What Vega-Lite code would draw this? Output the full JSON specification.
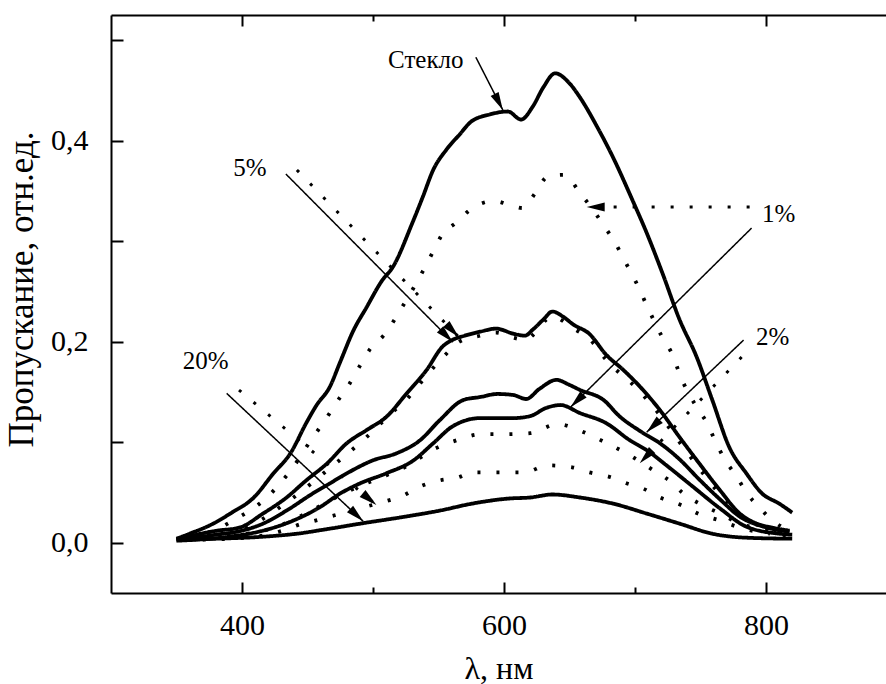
{
  "$schema": "https://vega.github.io/schema/vega-lite/v6.json",
  "width": 775,
  "height": 578,
  "autosize": {"type": "none"},
  "padding": {"left": 111, "top": 15, "right": 0, "bottom": 91},
  "background": "white",
  "config": {
    "view": {"stroke": null},
    "font": "Liberation Serif",
    "axis": {
      "labelFont": "Liberation Serif",
      "labelFontSize": 30,
      "labelColor": "black",
      "titleFont": "Liberation Serif",
      "titleFontWeight": "normal",
      "titleColor": "black",
      "domainColor": "black",
      "domainWidth": 2,
      "tickColor": "black",
      "tickWidth": 2,
      "grid": false,
      "labelFlush": false,
      "labelOverlap": false
    }
  },
  "datasets": {
    "curves": [
      {"sample": "Стекло", "kind": "solid", "nm": 350, "T": 0.004},
      {"sample": "Стекло", "kind": "solid", "nm": 360, "T": 0.009},
      {"sample": "Стекло", "kind": "solid", "nm": 378, "T": 0.019},
      {"sample": "Стекло", "kind": "solid", "nm": 391, "T": 0.029},
      {"sample": "Стекло", "kind": "solid", "nm": 409, "T": 0.045},
      {"sample": "Стекло", "kind": "solid", "nm": 424, "T": 0.069},
      {"sample": "Стекло", "kind": "solid", "nm": 437, "T": 0.089},
      {"sample": "Стекло", "kind": "solid", "nm": 449, "T": 0.119},
      {"sample": "Стекло", "kind": "solid", "nm": 457, "T": 0.137},
      {"sample": "Стекло", "kind": "solid", "nm": 467, "T": 0.155},
      {"sample": "Стекло", "kind": "solid", "nm": 475, "T": 0.18},
      {"sample": "Стекло", "kind": "solid", "nm": 485, "T": 0.211},
      {"sample": "Стекло", "kind": "solid", "nm": 495, "T": 0.234},
      {"sample": "Стекло", "kind": "solid", "nm": 507, "T": 0.261},
      {"sample": "Стекло", "kind": "solid", "nm": 515, "T": 0.274},
      {"sample": "Стекло", "kind": "solid", "nm": 530, "T": 0.318},
      {"sample": "Стекло", "kind": "solid", "nm": 538, "T": 0.344},
      {"sample": "Стекло", "kind": "solid", "nm": 546, "T": 0.371},
      {"sample": "Стекло", "kind": "solid", "nm": 556, "T": 0.391},
      {"sample": "Стекло", "kind": "solid", "nm": 566, "T": 0.406},
      {"sample": "Стекло", "kind": "solid", "nm": 575, "T": 0.419},
      {"sample": "Стекло", "kind": "solid", "nm": 589, "T": 0.426},
      {"sample": "Стекло", "kind": "solid", "nm": 603, "T": 0.429},
      {"sample": "Стекло", "kind": "solid", "nm": 613, "T": 0.421},
      {"sample": "Стекло", "kind": "solid", "nm": 622, "T": 0.434},
      {"sample": "Стекло", "kind": "solid", "nm": 630, "T": 0.453},
      {"sample": "Стекло", "kind": "solid", "nm": 639, "T": 0.467},
      {"sample": "Стекло", "kind": "solid", "nm": 650, "T": 0.457},
      {"sample": "Стекло", "kind": "solid", "nm": 658, "T": 0.443},
      {"sample": "Стекло", "kind": "solid", "nm": 671, "T": 0.414},
      {"sample": "Стекло", "kind": "solid", "nm": 683, "T": 0.384},
      {"sample": "Стекло", "kind": "solid", "nm": 698, "T": 0.341},
      {"sample": "Стекло", "kind": "solid", "nm": 709, "T": 0.308},
      {"sample": "Стекло", "kind": "solid", "nm": 721, "T": 0.268},
      {"sample": "Стекло", "kind": "solid", "nm": 734, "T": 0.222},
      {"sample": "Стекло", "kind": "solid", "nm": 747, "T": 0.185},
      {"sample": "Стекло", "kind": "solid", "nm": 759, "T": 0.142},
      {"sample": "Стекло", "kind": "solid", "nm": 772, "T": 0.095},
      {"sample": "Стекло", "kind": "solid", "nm": 785, "T": 0.069},
      {"sample": "Стекло", "kind": "solid", "nm": 797, "T": 0.049},
      {"sample": "Стекло", "kind": "solid", "nm": 810, "T": 0.039},
      {"sample": "Стекло", "kind": "solid", "nm": 820, "T": 0.03},

      {"sample": "5%", "kind": "solid", "nm": 350, "T": 0.003},
      {"sample": "5%", "kind": "solid", "nm": 365, "T": 0.008},
      {"sample": "5%", "kind": "solid", "nm": 381, "T": 0.012},
      {"sample": "5%", "kind": "solid", "nm": 398, "T": 0.015},
      {"sample": "5%", "kind": "solid", "nm": 416, "T": 0.029},
      {"sample": "5%", "kind": "solid", "nm": 434, "T": 0.045},
      {"sample": "5%", "kind": "solid", "nm": 449, "T": 0.062},
      {"sample": "5%", "kind": "solid", "nm": 465, "T": 0.079},
      {"sample": "5%", "kind": "solid", "nm": 480, "T": 0.099},
      {"sample": "5%", "kind": "solid", "nm": 495, "T": 0.112},
      {"sample": "5%", "kind": "solid", "nm": 510, "T": 0.125},
      {"sample": "5%", "kind": "solid", "nm": 526, "T": 0.149},
      {"sample": "5%", "kind": "solid", "nm": 541, "T": 0.172},
      {"sample": "5%", "kind": "solid", "nm": 553, "T": 0.195},
      {"sample": "5%", "kind": "solid", "nm": 561, "T": 0.202},
      {"sample": "5%", "kind": "solid", "nm": 570, "T": 0.206},
      {"sample": "5%", "kind": "solid", "nm": 582, "T": 0.21},
      {"sample": "5%", "kind": "solid", "nm": 594, "T": 0.213},
      {"sample": "5%", "kind": "solid", "nm": 607, "T": 0.208},
      {"sample": "5%", "kind": "solid", "nm": 616, "T": 0.206},
      {"sample": "5%", "kind": "solid", "nm": 622, "T": 0.212},
      {"sample": "5%", "kind": "solid", "nm": 630, "T": 0.222},
      {"sample": "5%", "kind": "solid", "nm": 637, "T": 0.23},
      {"sample": "5%", "kind": "solid", "nm": 645, "T": 0.225},
      {"sample": "5%", "kind": "solid", "nm": 653, "T": 0.217},
      {"sample": "5%", "kind": "solid", "nm": 665, "T": 0.208},
      {"sample": "5%", "kind": "solid", "nm": 678, "T": 0.187},
      {"sample": "5%", "kind": "solid", "nm": 691, "T": 0.172},
      {"sample": "5%", "kind": "solid", "nm": 704, "T": 0.155},
      {"sample": "5%", "kind": "solid", "nm": 719, "T": 0.132},
      {"sample": "5%", "kind": "solid", "nm": 734, "T": 0.105},
      {"sample": "5%", "kind": "solid", "nm": 749, "T": 0.079},
      {"sample": "5%", "kind": "solid", "nm": 765, "T": 0.052},
      {"sample": "5%", "kind": "solid", "nm": 780, "T": 0.029},
      {"sample": "5%", "kind": "solid", "nm": 793, "T": 0.019},
      {"sample": "5%", "kind": "solid", "nm": 805, "T": 0.015},
      {"sample": "5%", "kind": "solid", "nm": 818, "T": 0.012},

      {"sample": "2%", "kind": "solid", "nm": 350, "T": 0.003},
      {"sample": "2%", "kind": "solid", "nm": 380, "T": 0.008},
      {"sample": "2%", "kind": "solid", "nm": 400, "T": 0.012},
      {"sample": "2%", "kind": "solid", "nm": 416, "T": 0.019},
      {"sample": "2%", "kind": "solid", "nm": 434, "T": 0.032},
      {"sample": "2%", "kind": "solid", "nm": 454, "T": 0.049},
      {"sample": "2%", "kind": "solid", "nm": 467, "T": 0.059},
      {"sample": "2%", "kind": "solid", "nm": 480, "T": 0.069},
      {"sample": "2%", "kind": "solid", "nm": 500, "T": 0.082},
      {"sample": "2%", "kind": "solid", "nm": 518, "T": 0.089},
      {"sample": "2%", "kind": "solid", "nm": 536, "T": 0.102},
      {"sample": "2%", "kind": "solid", "nm": 551, "T": 0.122},
      {"sample": "2%", "kind": "solid", "nm": 569, "T": 0.142},
      {"sample": "2%", "kind": "solid", "nm": 582, "T": 0.145},
      {"sample": "2%", "kind": "solid", "nm": 595, "T": 0.148},
      {"sample": "2%", "kind": "solid", "nm": 607, "T": 0.147},
      {"sample": "2%", "kind": "solid", "nm": 617, "T": 0.143},
      {"sample": "2%", "kind": "solid", "nm": 627, "T": 0.153},
      {"sample": "2%", "kind": "solid", "nm": 640, "T": 0.162},
      {"sample": "2%", "kind": "solid", "nm": 650, "T": 0.157},
      {"sample": "2%", "kind": "solid", "nm": 658, "T": 0.152},
      {"sample": "2%", "kind": "solid", "nm": 676, "T": 0.142},
      {"sample": "2%", "kind": "solid", "nm": 688, "T": 0.126},
      {"sample": "2%", "kind": "solid", "nm": 704, "T": 0.111},
      {"sample": "2%", "kind": "solid", "nm": 719, "T": 0.099},
      {"sample": "2%", "kind": "solid", "nm": 734, "T": 0.083},
      {"sample": "2%", "kind": "solid", "nm": 749, "T": 0.063},
      {"sample": "2%", "kind": "solid", "nm": 765, "T": 0.043},
      {"sample": "2%", "kind": "solid", "nm": 780, "T": 0.026},
      {"sample": "2%", "kind": "solid", "nm": 798, "T": 0.016},
      {"sample": "2%", "kind": "solid", "nm": 818, "T": 0.011},

      {"sample": "1%", "kind": "solid", "nm": 350, "T": 0.002},
      {"sample": "1%", "kind": "solid", "nm": 390, "T": 0.006},
      {"sample": "1%", "kind": "solid", "nm": 416, "T": 0.012},
      {"sample": "1%", "kind": "solid", "nm": 439, "T": 0.022},
      {"sample": "1%", "kind": "solid", "nm": 459, "T": 0.035},
      {"sample": "1%", "kind": "solid", "nm": 475, "T": 0.049},
      {"sample": "1%", "kind": "solid", "nm": 490, "T": 0.059},
      {"sample": "1%", "kind": "solid", "nm": 510, "T": 0.069},
      {"sample": "1%", "kind": "solid", "nm": 531, "T": 0.082},
      {"sample": "1%", "kind": "solid", "nm": 546, "T": 0.099},
      {"sample": "1%", "kind": "solid", "nm": 561, "T": 0.116},
      {"sample": "1%", "kind": "solid", "nm": 582, "T": 0.124},
      {"sample": "1%", "kind": "solid", "nm": 595, "T": 0.124},
      {"sample": "1%", "kind": "solid", "nm": 607, "T": 0.124},
      {"sample": "1%", "kind": "solid", "nm": 620, "T": 0.126},
      {"sample": "1%", "kind": "solid", "nm": 632, "T": 0.134},
      {"sample": "1%", "kind": "solid", "nm": 643, "T": 0.137},
      {"sample": "1%", "kind": "solid", "nm": 658, "T": 0.129},
      {"sample": "1%", "kind": "solid", "nm": 678, "T": 0.119},
      {"sample": "1%", "kind": "solid", "nm": 696, "T": 0.102},
      {"sample": "1%", "kind": "solid", "nm": 709, "T": 0.092},
      {"sample": "1%", "kind": "solid", "nm": 724, "T": 0.077},
      {"sample": "1%", "kind": "solid", "nm": 744, "T": 0.056},
      {"sample": "1%", "kind": "solid", "nm": 765, "T": 0.034},
      {"sample": "1%", "kind": "solid", "nm": 785, "T": 0.016},
      {"sample": "1%", "kind": "solid", "nm": 810, "T": 0.009},
      {"sample": "1%", "kind": "solid", "nm": 820, "T": 0.008},

      {"sample": "20%", "kind": "solid", "nm": 350, "T": 0.003},
      {"sample": "20%", "kind": "solid", "nm": 380, "T": 0.004},
      {"sample": "20%", "kind": "solid", "nm": 416, "T": 0.006},
      {"sample": "20%", "kind": "solid", "nm": 442, "T": 0.009},
      {"sample": "20%", "kind": "solid", "nm": 467, "T": 0.014},
      {"sample": "20%", "kind": "solid", "nm": 495, "T": 0.02},
      {"sample": "20%", "kind": "solid", "nm": 520, "T": 0.025},
      {"sample": "20%", "kind": "solid", "nm": 551, "T": 0.032},
      {"sample": "20%", "kind": "solid", "nm": 576, "T": 0.039},
      {"sample": "20%", "kind": "solid", "nm": 604, "T": 0.044},
      {"sample": "20%", "kind": "solid", "nm": 620, "T": 0.045},
      {"sample": "20%", "kind": "solid", "nm": 637, "T": 0.048},
      {"sample": "20%", "kind": "solid", "nm": 658, "T": 0.045},
      {"sample": "20%", "kind": "solid", "nm": 683, "T": 0.039},
      {"sample": "20%", "kind": "solid", "nm": 709, "T": 0.029},
      {"sample": "20%", "kind": "solid", "nm": 734, "T": 0.019},
      {"sample": "20%", "kind": "solid", "nm": 759, "T": 0.009},
      {"sample": "20%", "kind": "solid", "nm": 785, "T": 0.005},
      {"sample": "20%", "kind": "solid", "nm": 820, "T": 0.004},

      {"sample": "1%", "kind": "dotted", "nm": 360, "T": 0.006},
      {"sample": "1%", "kind": "dotted", "nm": 380, "T": 0.013},
      {"sample": "1%", "kind": "dotted", "nm": 393, "T": 0.022},
      {"sample": "1%", "kind": "dotted", "nm": 406, "T": 0.032},
      {"sample": "1%", "kind": "dotted", "nm": 419, "T": 0.045},
      {"sample": "1%", "kind": "dotted", "nm": 429, "T": 0.059},
      {"sample": "1%", "kind": "dotted", "nm": 439, "T": 0.075},
      {"sample": "1%", "kind": "dotted", "nm": 449, "T": 0.095},
      {"sample": "1%", "kind": "dotted", "nm": 457, "T": 0.11},
      {"sample": "1%", "kind": "dotted", "nm": 467, "T": 0.129},
      {"sample": "1%", "kind": "dotted", "nm": 475, "T": 0.145},
      {"sample": "1%", "kind": "dotted", "nm": 482, "T": 0.158},
      {"sample": "1%", "kind": "dotted", "nm": 490, "T": 0.176},
      {"sample": "1%", "kind": "dotted", "nm": 498, "T": 0.193},
      {"sample": "1%", "kind": "dotted", "nm": 508, "T": 0.206},
      {"sample": "1%", "kind": "dotted", "nm": 523, "T": 0.236},
      {"sample": "1%", "kind": "dotted", "nm": 538, "T": 0.27},
      {"sample": "1%", "kind": "dotted", "nm": 546, "T": 0.29},
      {"sample": "1%", "kind": "dotted", "nm": 553, "T": 0.307},
      {"sample": "1%", "kind": "dotted", "nm": 563, "T": 0.318},
      {"sample": "1%", "kind": "dotted", "nm": 576, "T": 0.333},
      {"sample": "1%", "kind": "dotted", "nm": 592, "T": 0.34},
      {"sample": "1%", "kind": "dotted", "nm": 607, "T": 0.335},
      {"sample": "1%", "kind": "dotted", "nm": 614, "T": 0.333},
      {"sample": "1%", "kind": "dotted", "nm": 624, "T": 0.348},
      {"sample": "1%", "kind": "dotted", "nm": 633, "T": 0.364},
      {"sample": "1%", "kind": "dotted", "nm": 646, "T": 0.366},
      {"sample": "1%", "kind": "dotted", "nm": 658, "T": 0.348},
      {"sample": "1%", "kind": "dotted", "nm": 668, "T": 0.331},
      {"sample": "1%", "kind": "dotted", "nm": 677, "T": 0.314},
      {"sample": "1%", "kind": "dotted", "nm": 685, "T": 0.298},
      {"sample": "1%", "kind": "dotted", "nm": 694, "T": 0.276},
      {"sample": "1%", "kind": "dotted", "nm": 702, "T": 0.256},
      {"sample": "1%", "kind": "dotted", "nm": 709, "T": 0.236},
      {"sample": "1%", "kind": "dotted", "nm": 721, "T": 0.204},
      {"sample": "1%", "kind": "dotted", "nm": 729, "T": 0.186},
      {"sample": "1%", "kind": "dotted", "nm": 734, "T": 0.168},
      {"sample": "1%", "kind": "dotted", "nm": 747, "T": 0.135},
      {"sample": "1%", "kind": "dotted", "nm": 755, "T": 0.119},
      {"sample": "1%", "kind": "dotted", "nm": 761, "T": 0.102},
      {"sample": "1%", "kind": "dotted", "nm": 768, "T": 0.084},
      {"sample": "1%", "kind": "dotted", "nm": 778, "T": 0.065},
      {"sample": "1%", "kind": "dotted", "nm": 785, "T": 0.05},
      {"sample": "1%", "kind": "dotted", "nm": 795, "T": 0.035},
      {"sample": "1%", "kind": "dotted", "nm": 805, "T": 0.022},
      {"sample": "1%", "kind": "dotted", "nm": 818, "T": 0.012},

      {"sample": "5%", "kind": "dotted", "nm": 360, "T": 0.004},
      {"sample": "5%", "kind": "dotted", "nm": 398, "T": 0.012},
      {"sample": "5%", "kind": "dotted", "nm": 434, "T": 0.04},
      {"sample": "5%", "kind": "dotted", "nm": 465, "T": 0.072},
      {"sample": "5%", "kind": "dotted", "nm": 495, "T": 0.105},
      {"sample": "5%", "kind": "dotted", "nm": 515, "T": 0.13},
      {"sample": "5%", "kind": "dotted", "nm": 526, "T": 0.143},
      {"sample": "5%", "kind": "dotted", "nm": 542, "T": 0.168},
      {"sample": "5%", "kind": "dotted", "nm": 556, "T": 0.188},
      {"sample": "5%", "kind": "dotted", "nm": 566, "T": 0.2},
      {"sample": "5%", "kind": "dotted", "nm": 582, "T": 0.206},
      {"sample": "5%", "kind": "dotted", "nm": 594, "T": 0.209},
      {"sample": "5%", "kind": "dotted", "nm": 607, "T": 0.204},
      {"sample": "5%", "kind": "dotted", "nm": 616, "T": 0.202},
      {"sample": "5%", "kind": "dotted", "nm": 637, "T": 0.225},
      {"sample": "5%", "kind": "dotted", "nm": 653, "T": 0.213},
      {"sample": "5%", "kind": "dotted", "nm": 665, "T": 0.203},
      {"sample": "5%", "kind": "dotted", "nm": 678, "T": 0.182},
      {"sample": "5%", "kind": "dotted", "nm": 704, "T": 0.15},
      {"sample": "5%", "kind": "dotted", "nm": 719, "T": 0.127},
      {"sample": "5%", "kind": "dotted", "nm": 734, "T": 0.1},
      {"sample": "5%", "kind": "dotted", "nm": 749, "T": 0.074},
      {"sample": "5%", "kind": "dotted", "nm": 765, "T": 0.048},
      {"sample": "5%", "kind": "dotted", "nm": 780, "T": 0.027},
      {"sample": "5%", "kind": "dotted", "nm": 800, "T": 0.015},
      {"sample": "5%", "kind": "dotted", "nm": 818, "T": 0.01},

      {"sample": "2%", "kind": "dotted", "nm": 360, "T": 0.003},
      {"sample": "2%", "kind": "dotted", "nm": 400, "T": 0.008},
      {"sample": "2%", "kind": "dotted", "nm": 425, "T": 0.015},
      {"sample": "2%", "kind": "dotted", "nm": 450, "T": 0.03},
      {"sample": "2%", "kind": "dotted", "nm": 470, "T": 0.044},
      {"sample": "2%", "kind": "dotted", "nm": 491, "T": 0.057},
      {"sample": "2%", "kind": "dotted", "nm": 510, "T": 0.067},
      {"sample": "2%", "kind": "dotted", "nm": 527, "T": 0.077},
      {"sample": "2%", "kind": "dotted", "nm": 545, "T": 0.092},
      {"sample": "2%", "kind": "dotted", "nm": 564, "T": 0.102},
      {"sample": "2%", "kind": "dotted", "nm": 583, "T": 0.108},
      {"sample": "2%", "kind": "dotted", "nm": 599, "T": 0.108},
      {"sample": "2%", "kind": "dotted", "nm": 620, "T": 0.109},
      {"sample": "2%", "kind": "dotted", "nm": 641, "T": 0.118},
      {"sample": "2%", "kind": "dotted", "nm": 659, "T": 0.111},
      {"sample": "2%", "kind": "dotted", "nm": 677, "T": 0.1},
      {"sample": "2%", "kind": "dotted", "nm": 696, "T": 0.087},
      {"sample": "2%", "kind": "dotted", "nm": 714, "T": 0.072},
      {"sample": "2%", "kind": "dotted", "nm": 728, "T": 0.06},
      {"sample": "2%", "kind": "dotted", "nm": 736, "T": 0.05},
      {"sample": "2%", "kind": "dotted", "nm": 749, "T": 0.039},
      {"sample": "2%", "kind": "dotted", "nm": 765, "T": 0.029},
      {"sample": "2%", "kind": "dotted", "nm": 780, "T": 0.019},
      {"sample": "2%", "kind": "dotted", "nm": 805, "T": 0.012},
      {"sample": "2%", "kind": "dotted", "nm": 818, "T": 0.005},

      {"sample": "20%", "kind": "dotted", "nm": 370, "T": 0.003},
      {"sample": "20%", "kind": "dotted", "nm": 410, "T": 0.006},
      {"sample": "20%", "kind": "dotted", "nm": 431, "T": 0.012},
      {"sample": "20%", "kind": "dotted", "nm": 446, "T": 0.019},
      {"sample": "20%", "kind": "dotted", "nm": 453, "T": 0.021},
      {"sample": "20%", "kind": "dotted", "nm": 467, "T": 0.026},
      {"sample": "20%", "kind": "dotted", "nm": 495, "T": 0.036},
      {"sample": "20%", "kind": "dotted", "nm": 509, "T": 0.041},
      {"sample": "20%", "kind": "dotted", "nm": 523, "T": 0.047},
      {"sample": "20%", "kind": "dotted", "nm": 536, "T": 0.056},
      {"sample": "20%", "kind": "dotted", "nm": 551, "T": 0.062},
      {"sample": "20%", "kind": "dotted", "nm": 565, "T": 0.065},
      {"sample": "20%", "kind": "dotted", "nm": 576, "T": 0.07},
      {"sample": "20%", "kind": "dotted", "nm": 596, "T": 0.07},
      {"sample": "20%", "kind": "dotted", "nm": 616, "T": 0.07},
      {"sample": "20%", "kind": "dotted", "nm": 633, "T": 0.077},
      {"sample": "20%", "kind": "dotted", "nm": 652, "T": 0.075},
      {"sample": "20%", "kind": "dotted", "nm": 665, "T": 0.07},
      {"sample": "20%", "kind": "dotted", "nm": 682, "T": 0.065},
      {"sample": "20%", "kind": "dotted", "nm": 694, "T": 0.059},
      {"sample": "20%", "kind": "dotted", "nm": 706, "T": 0.054},
      {"sample": "20%", "kind": "dotted", "nm": 719, "T": 0.045},
      {"sample": "20%", "kind": "dotted", "nm": 736, "T": 0.037},
      {"sample": "20%", "kind": "dotted", "nm": 748, "T": 0.029},
      {"sample": "20%", "kind": "dotted", "nm": 765, "T": 0.022},
      {"sample": "20%", "kind": "dotted", "nm": 780, "T": 0.015},
      {"sample": "20%", "kind": "dotted", "nm": 803, "T": 0.009}
    ],
    "arrows": [
      {"sample": "Стекло", "kind": "solid", "x": 578.5, "y": 0.483, "x2": 599.1, "y2": 0.4305},
      {"sample": "5%", "kind": "solid", "x": 433.5, "y": 0.3668, "x2": 560.9, "y2": 0.1996},
      {"sample": "5%", "kind": "dotted", "x": 441.9, "y": 0.3708, "x2": 565.5, "y2": 0.2046},
      {"sample": "1%", "kind": "dotted", "x": 787.5, "y": 0.334, "x2": 663.1, "y2": 0.334},
      {"sample": "1%", "kind": "solid", "x": 789.0, "y": 0.313, "x2": 650.9, "y2": 0.135},
      {"sample": "2%", "kind": "solid", "x": 782.9, "y": 0.2016, "x2": 708.9, "y2": 0.11},
      {"sample": "2%", "kind": "dotted", "x": 781.4, "y": 0.1847, "x2": 703.6, "y2": 0.0792},
      {"sample": "20%", "kind": "solid", "x": 388.3, "y": 0.1486, "x2": 492.5, "y2": 0.0213},
      {"sample": "20%", "kind": "dotted", "x": 397.7, "y": 0.1519, "x2": 502.6, "y2": 0.0375}
    ],
    "labels": [
      {"text": "Стекло", "x": 540.3, "y": 0.48},
      {"text": "5%", "x": 406.0, "y": 0.3728},
      {"text": "1%", "x": 809.6, "y": 0.327},
      {"text": "2%", "x": 805.0, "y": 0.2046},
      {"text": "20%", "x": 372.3, "y": 0.181}
    ]
  },
  "resolve": {"axis": {"x": "independent"}},
  "layer": [
    {
      "data": {"name": "curves"},
      "mark": {"type": "line", "color": "black", "strokeWidth": 3.8, "strokeJoin": "round", "strokeCap": "butt", "interpolate": "monotone"},
      "encoding": {
        "x": {
          "field": "nm", "type": "quantitative",
          "scale": {"domain": [300, 891.6], "nice": false, "zero": false},
          "axis": {
            "orient": "bottom",
            "title": "λ, нм",
            "titleFontSize": 32,
            "titleBaseline": "alphabetic",
            "titleY": 85,
            "values": [400, 500, 600, 700, 800],
            "labelExpr": "datum.value % 200 == 0 ? datum.label : ''",
            "tickSize": {"condition": {"test": "datum.value % 200 == 0", "value": -11}, "value": -6},
            "labelPadding": 28
          }
        },
        "y": {
          "field": "T", "type": "quantitative",
          "scale": {"domain": [-0.05, 0.525], "nice": false, "zero": false},
          "axis": {
            "title": "Пропускание, отн.ед.",
            "titleFontSize": 35,
            "titleBaseline": "alphabetic",
            "titleX": -79,
            "titleY": 274,
            "titleAngle": -90,
            "titleAlign": "center",
            "values": [0, 0.1, 0.2, 0.3, 0.4, 0.5],
            "labelExpr": "datum.value == 0 ? '0,0' : datum.value == 0.2 ? '0,2' : datum.value == 0.4 ? '0,4' : ''",
            "tickSize": -12,
            "labelPadding": 35
          }
        },
        "detail": {"field": "sample", "type": "nominal"},
        "strokeDash": {
          "field": "kind", "type": "nominal",
          "scale": {"domain": ["solid", "dotted"], "range": [[1, 0], [3, 16]]},
          "legend": null
        }
      }
    },
    {
      "data": {"name": "arrows"},
      "mark": {"type": "rule", "color": "black"},
      "encoding": {
        "x": {
          "field": "x", "type": "quantitative",
          "axis": {
            "orient": "top",
            "title": null,
            "labels": false,
            "values": [400, 500, 600, 700, 800],
            "tickSize": {"condition": {"test": "datum.value % 200 == 0", "value": -11}, "value": -6}
          }
        },
        "x2": {"field": "x2"},
        "y": {"field": "y", "type": "quantitative"},
        "y2": {"field": "y2"},
        "strokeDash": {
          "field": "kind", "type": "nominal",
          "scale": {"domain": ["solid", "dotted"], "range": [[1, 0], [5, 7]]},
          "legend": null
        },
        "strokeWidth": {
          "field": "kind", "type": "nominal",
          "scale": {"domain": ["solid", "dotted"], "range": [1.5, 3]},
          "legend": null
        }
      }
    },
    {
      "data": {"name": "arrows"},
      "transform": [
        {"calculate": "atan2((datum.x2 - datum.x) * 1.3108, (datum.y2 - datum.y) * 1005) * 180 / PI", "as": "heading"}
      ],
      "mark": {"type": "point", "shape": "M0,0L-0.5,2L0.5,2Z", "filled": true, "color": "black", "opacity": 1, "size": 324},
      "encoding": {
        "x": {"field": "x2", "type": "quantitative", "axis": null},
        "y": {"field": "y2", "type": "quantitative"},
        "angle": {"field": "heading", "type": "quantitative", "scale": null}
      }
    },
    {
      "data": {"name": "labels"},
      "mark": {"type": "text", "font": "Liberation Serif", "fontSize": 25, "color": "black", "align": "center", "baseline": "middle"},
      "encoding": {
        "x": {"field": "x", "type": "quantitative", "axis": null},
        "y": {"field": "y", "type": "quantitative"},
        "text": {"field": "text", "type": "nominal"}
      }
    }
  ]
}
